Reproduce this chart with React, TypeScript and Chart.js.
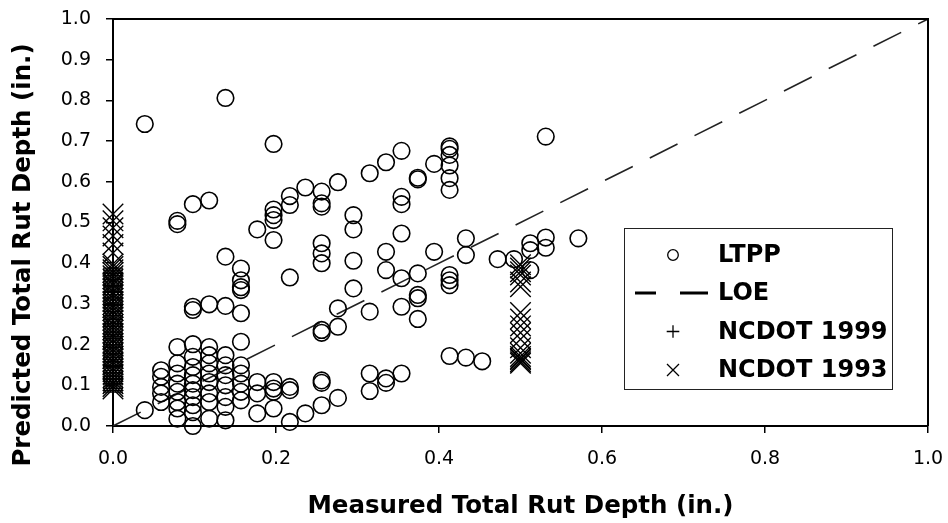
import React, { useEffect, useRef } from "react";
import { Chart, registerables } from "chart.js";

Chart.register(...registerables);

// LTPP sections: [measured, predicted] total rut depth (in.)
const ltpp: [number, number][] = [
  [0.039, 0.742], [0.138, 0.806], [0.197, 0.693], [0.098, 0.545], [0.118, 0.554],
  [0.079, 0.504], [0.079, 0.496], [0.177, 0.483],
  [0.197, 0.532], [0.197, 0.518], [0.197, 0.506], [0.197, 0.457],
  [0.217, 0.565], [0.217, 0.543], [0.236, 0.586],
  [0.256, 0.576], [0.256, 0.547], [0.256, 0.539], [0.276, 0.599],
  [0.295, 0.518], [0.295, 0.483], [0.315, 0.621], [0.335, 0.648],
  [0.354, 0.676], [0.354, 0.563], [0.354, 0.545], [0.354, 0.473],
  [0.374, 0.610], [0.374, 0.606], [0.394, 0.644],
  [0.413, 0.687], [0.413, 0.681], [0.413, 0.666], [0.413, 0.640], [0.413, 0.609], [0.413, 0.580],
  [0.531, 0.711],
  [0.138, 0.416], [0.157, 0.387], [0.157, 0.358], [0.157, 0.341], [0.157, 0.334], [0.157, 0.277],
  [0.217, 0.365], [0.098, 0.293], [0.098, 0.285], [0.118, 0.299], [0.138, 0.295],
  [0.256, 0.449], [0.256, 0.424], [0.256, 0.400], [0.295, 0.406],
  [0.335, 0.428], [0.335, 0.383], [0.394, 0.428], [0.433, 0.461], [0.433, 0.420],
  [0.472, 0.410], [0.492, 0.410], [0.512, 0.449], [0.512, 0.432], [0.512, 0.383],
  [0.531, 0.463], [0.531, 0.438], [0.571, 0.461],
  [0.354, 0.363], [0.374, 0.375], [0.413, 0.371], [0.413, 0.358], [0.413, 0.346],
  [0.295, 0.338], [0.276, 0.289], [0.315, 0.281], [0.354, 0.293],
  [0.374, 0.322], [0.374, 0.314], [0.374, 0.263],
  [0.256, 0.236], [0.256, 0.229], [0.276, 0.244],
  [0.413, 0.172], [0.433, 0.168], [0.453, 0.159],
  [0.256, 0.112], [0.256, 0.106], [0.315, 0.129], [0.315, 0.086],
  [0.335, 0.117], [0.335, 0.106], [0.354, 0.129], [0.276, 0.069], [0.256, 0.051], [0.236, 0.031],
  [0.079, 0.194], [0.098, 0.201], [0.118, 0.194], [0.157, 0.207], [0.138, 0.174],
  [0.039, 0.039],
  [0.059, 0.137], [0.059, 0.121], [0.059, 0.096], [0.059, 0.080], [0.059, 0.059],
  [0.079, 0.154], [0.079, 0.129], [0.079, 0.104], [0.079, 0.084], [0.079, 0.059], [0.079, 0.043], [0.079, 0.018],
  [0.098, 0.170], [0.098, 0.145], [0.098, 0.125], [0.098, 0.104], [0.098, 0.088], [0.098, 0.071],
  [0.098, 0.051], [0.098, 0.034], [0.098, 0.000],
  [0.118, 0.174], [0.118, 0.154], [0.118, 0.129], [0.118, 0.108], [0.118, 0.080], [0.118, 0.059], [0.118, 0.018],
  [0.138, 0.149], [0.138, 0.125], [0.138, 0.100], [0.138, 0.071], [0.138, 0.047], [0.138, 0.014],
  [0.157, 0.149], [0.157, 0.129], [0.157, 0.104], [0.157, 0.084], [0.157, 0.063],
  [0.177, 0.108], [0.177, 0.080], [0.177, 0.031],
  [0.197, 0.108], [0.197, 0.092], [0.197, 0.084], [0.197, 0.043],
  [0.217, 0.096], [0.217, 0.088], [0.217, 0.010],
];

// Line of equality
const loeX = [0, 1];
const loeY = [0, 1];

// NCDOT 1999 sections: predicted depths (all measured at 0.0 in.)
const ncdot1999Y = [
  0.083, 0.087, 0.092, 0.096, 0.101, 0.104, 0.109, 0.114, 0.117, 0.122, 0.128, 0.131, 0.136, 0.142,
  0.146, 0.149, 0.155, 0.159, 0.163, 0.168, 0.174, 0.178, 0.182, 0.187, 0.193, 0.196, 0.200, 0.206,
  0.211, 0.215, 0.220, 0.225, 0.229, 0.233, 0.239, 0.244, 0.248, 0.252, 0.258, 0.262, 0.266, 0.271,
  0.277, 0.281, 0.285, 0.290, 0.296, 0.299, 0.304, 0.310, 0.314, 0.317, 0.323, 0.328, 0.331, 0.337,
  0.342, 0.345, 0.351, 0.356, 0.360, 0.364, 0.370, 0.375, 0.378, 0.383, 0.388,
];
const ncdot1999X = ncdot1999Y.map(() => 0);

// NCDOT 1993 sections: measured depths and predicted depths
const ncdot1993X = [
  0, 0, 0, 0, 0, 0,
  0, 0, 0, 0, 0, 0, 0, 0, 0, 0, 0, 0, 0, 0, 0, 0, 0, 0, 0, 0, 0,
  0, 0, 0, 0, 0, 0, 0, 0, 0, 0, 0, 0, 0, 0, 0, 0, 0, 0, 0, 0,
  0.5, 0.5, 0.5, 0.5, 0.5, 0.5, 0.5, 0.5, 0.5, 0.5, 0.5, 0.5, 0.5, 0.5, 0.5, 0.5, 0.5, 0.5,
];
const ncdot1993Y = [
  0.521, 0.504, 0.487, 0.467, 0.446, 0.425,
  0.398, 0.392, 0.384, 0.377, 0.369, 0.361, 0.352, 0.347, 0.338, 0.329, 0.323, 0.314, 0.306, 0.298,
  0.291, 0.283, 0.274, 0.268, 0.259, 0.250, 0.243,
  0.236, 0.227, 0.219, 0.212, 0.203, 0.196, 0.188, 0.181, 0.172, 0.166, 0.157, 0.150, 0.141, 0.134,
  0.127, 0.118, 0.111, 0.104, 0.097, 0.091,
  0.396, 0.388, 0.379, 0.371, 0.354, 0.342, 0.279, 0.263, 0.246, 0.229, 0.213, 0.192, 0.179, 0.171,
  0.166, 0.163, 0.158, 0.154,
];

const seriesLabels = ["LTPP", "LOE", "NCDOT 1999", "NCDOT 1993"];
const xTicks = [0, 0.2, 0.4, 0.6, 0.8, 1.0];
const yTicks = [0, 0.1, 0.2, 0.3, 0.4, 0.5, 0.6, 0.7, 0.8, 0.9, 1.0];
const xTitle = "Measured Total Rut Depth (in.)";
const yTitle = "Predicted Total Rut Depth (in.)";

const FONT = "'DejaVu Sans', 'Liberation Sans', Arial, sans-serif";

// Closes the plot box on the top and right sides
const frame = {
  id: "frame",
  afterDatasetsDraw(chart: any) {
    const { ctx, chartArea: a } = chart;
    ctx.save();
    ctx.strokeStyle = "#000";
    ctx.lineWidth = 2;
    ctx.beginPath();
    ctx.moveTo(a.left, a.top);
    ctx.lineTo(a.right, a.top);
    ctx.lineTo(a.right, a.bottom);
    ctx.stroke();
    ctx.restore();
  },
};

// Vertical axis caption
const yCaption = {
  id: "yCaption",
  afterDraw(chart: any) {
    const { ctx } = chart;
    ctx.save();
    ctx.translate(24, 255);
    ctx.rotate(-Math.PI / 2);
    ctx.font = `bold 24.5px ${FONT}`;
    ctx.fillStyle = "#000";
    ctx.textAlign = "center";
    ctx.textBaseline = "middle";
    ctx.fillText(yTitle, 0, 0);
    ctx.restore();
  },
};

// Boxed legend inside the plot area
const boxLegend = {
  id: "boxLegend",
  afterDraw(chart: any) {
    const { ctx, chartArea: a } = chart;
    const bx = a.left + 511;
    const by = a.top + 209;
    const bw = 268;
    const bh = 161;
    ctx.save();
    ctx.fillStyle = "#fff";
    ctx.fillRect(bx, by, bw, bh);
    ctx.strokeStyle = "#222";
    ctx.lineWidth = 1;
    ctx.strokeRect(bx + 0.5, by + 0.5, bw, bh);

    const mx = bx + 49;
    const tx = bx + 94;
    const rows = [27, 65, 103.5, 142];
    ctx.strokeStyle = "#000";

    // circle
    ctx.lineWidth = 1.3;
    ctx.beginPath();
    ctx.arc(mx, by + rows[0], 5.3, 0, Math.PI * 2);
    ctx.stroke();

    // dashed line
    ctx.lineWidth = 3;
    ctx.beginPath();
    ctx.moveTo(bx + 11, by + rows[1]);
    ctx.lineTo(bx + 32, by + rows[1]);
    ctx.moveTo(bx + 56, by + rows[1]);
    ctx.lineTo(bx + 84, by + rows[1]);
    ctx.stroke();

    // plus
    ctx.lineWidth = 1.3;
    ctx.beginPath();
    ctx.moveTo(mx - 6.3, by + rows[2]);
    ctx.lineTo(mx + 6.3, by + rows[2]);
    ctx.moveTo(mx, by + rows[2] - 6.3);
    ctx.lineTo(mx, by + rows[2] + 6.3);
    ctx.stroke();

    // cross
    ctx.beginPath();
    ctx.moveTo(mx - 6, by + rows[3] - 6);
    ctx.lineTo(mx + 6, by + rows[3] + 6);
    ctx.moveTo(mx + 6, by + rows[3] - 6);
    ctx.lineTo(mx - 6, by + rows[3] + 6);
    ctx.stroke();

    ctx.fillStyle = "#000";
    ctx.font = `bold 24px ${FONT}`;
    ctx.textAlign = "left";
    ctx.textBaseline = "middle";
    seriesLabels.forEach((t, i) => ctx.fillText(t, tx, by + rows[i] + 1));
    ctx.restore();
  },
};

const tickFont = { family: FONT, size: 19 };
const fmt = (v: any) => Number(v).toFixed(1);

export default function App() {
  const ref = useRef<HTMLCanvasElement>(null);

  useEffect(() => {
    const chart = new Chart(ref.current as HTMLCanvasElement, {
      type: "scatter",
      data: {
        datasets: [
          {
            label: seriesLabels[0],
            data: ltpp.map(([x, y]) => ({ x, y })),
            pointStyle: "circle",
            pointRadius: 8.3,
            borderWidth: 1.6,
            borderColor: "#000",
            backgroundColor: "rgba(0,0,0,0)",
            clip: false,
          },
          {
            label: seriesLabels[1],
            data: loeX.map((x, i) => ({ x, y: loeY[i] })),
            showLine: true,
            borderColor: "#222",
            borderWidth: 1.6,
            borderDash: [31, 19],
            pointRadius: 0,
            fill: false,
          },
          {
            label: seriesLabels[2],
            data: ncdot1999X.map((x, i) => ({ x, y: ncdot1999Y[i] })),
            pointStyle: "cross",
            pointRadius: 10,
            borderWidth: 1.2,
            borderColor: "#000",
            backgroundColor: "#000",
            clip: false,
          },
          {
            label: seriesLabels[3],
            data: ncdot1993X.map((x, i) => ({ x, y: ncdot1993Y[i] })),
            pointStyle: "crossRot",
            pointRadius: 14.5,
            borderWidth: 1.4,
            borderColor: "#000",
            backgroundColor: "#000",
            clip: false,
          },
        ],
      } as any,
      options: {
        animation: false,
        responsive: false,
        events: [],
        layout: { padding: { top: 19, right: 20, left: 0, bottom: 0 } },
        plugins: { legend: { display: false }, tooltip: { enabled: false } },
        scales: {
          x: {
            type: "linear",
            min: 0,
            max: 1,
            afterFit(s: any) {
              s.height = 97;
              s.paddingLeft = 0;
              s.paddingRight = 0;
            },
            afterBuildTicks(s: any) {
              s.ticks = xTicks.map((value) => ({ value }));
            },
            ticks: { callback: fmt, font: tickFont, color: "#000", padding: 15, maxRotation: 0, autoSkip: false },
            grid: { display: true, drawOnChartArea: false, drawTicks: true, tickLength: 7, lineWidth: 1.5, tickColor: "#000" },
            border: { display: true, color: "#000", width: 2 },
            title: {
              display: true,
              text: xTitle,
              color: "#000",
              font: { family: FONT, size: 24.5, weight: "bold" },
              padding: { top: 0, bottom: 2 },
            },
          },
          y: {
            type: "linear",
            min: 0,
            max: 1,
            afterFit(s: any) {
              s.width = 113;
              s.paddingTop = 0;
              s.paddingBottom = 0;
            },
            afterBuildTicks(s: any) {
              s.ticks = yTicks.map((value) => ({ value }));
            },
            ticks: { callback: fmt, font: tickFont, color: "#000", padding: 15, autoSkip: false },
            grid: { display: true, drawOnChartArea: false, drawTicks: true, tickLength: 7, lineWidth: 1.5, tickColor: "#000" },
            border: { display: true, color: "#000", width: 2 },
          },
        },
      } as any,
      plugins: [frame, yCaption, boxLegend],
    });
    return () => chart.destroy();
  }, []);

  return (
    <div style={{ position: "fixed", left: 0, top: 0, width: 948, height: 523, background: "#fff" }}>
      <canvas ref={ref} width={948} height={523} style={{ display: "block", width: 948, height: 523 }} />
    </div>
  );
}
